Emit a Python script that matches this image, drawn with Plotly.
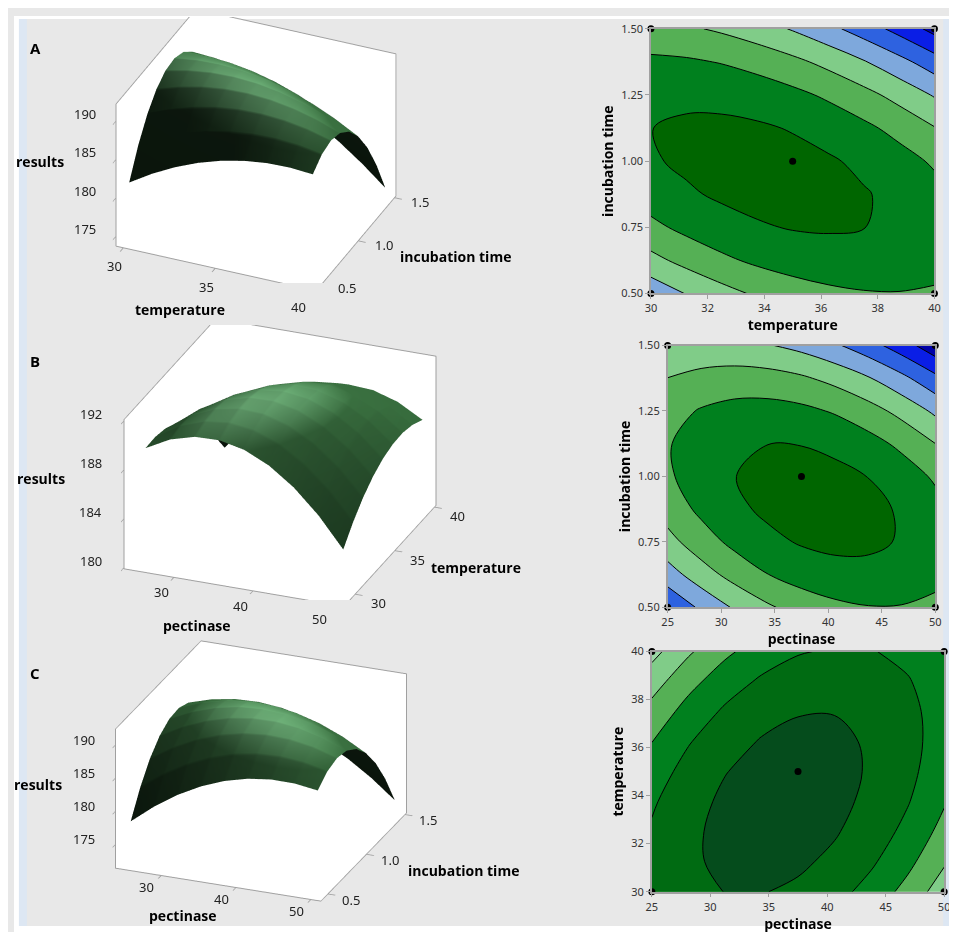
import plotly.graph_objects as go

# ---------------- data ----------------
temperature = [30, 31.25, 32.5, 33.75, 35, 36.25, 37.5, 38.75, 40]
incubation_time = [0.5, 0.625, 0.75, 0.875, 1.0, 1.125, 1.25, 1.375, 1.5]
pectinase = [25, 28.125, 31.25, 34.375, 37.5, 40.625, 43.75, 46.875, 50]

# rows = incubation_time, columns = temperature
results_temperature_incubation = [
    [181.30, 183.11, 184.63, 185.86, 186.80, 187.46, 187.83, 187.91, 187.70],
    [184.75, 186.27, 187.51, 188.46, 189.12, 189.50, 189.58, 189.38, 188.90],
    [187.39, 188.63, 189.59, 190.26, 190.64, 190.73, 190.54, 190.06, 189.29],
    [189.22, 190.18, 190.86, 191.25, 191.35, 191.16, 190.68, 189.92, 188.87],
    [190.25, 190.93, 191.33, 191.43, 191.25, 190.78, 190.03, 188.98, 187.65],
    [190.47, 190.87, 190.98, 190.81, 190.35, 189.60, 188.56, 187.23, 185.62],
    [189.89, 190.01, 189.84, 189.38, 188.64, 187.61, 186.29, 184.68, 182.79],
    [188.50, 188.33, 187.88, 187.15, 186.12, 184.81, 183.21, 181.32, 179.15],
    [186.30, 185.86, 185.13, 184.11, 182.80, 181.21, 179.33, 177.16, 174.70],
]

# rows = incubation_time, columns = pectinase
results_pectinase_incubation = [
    [177.59, 180.38, 182.71, 184.56, 185.94, 186.85, 187.30, 187.27, 186.77],
    [181.27, 183.77, 185.81, 187.37, 188.47, 189.09, 189.25, 188.93, 188.15],
    [184.07, 186.28, 188.03, 189.31, 190.12, 190.46, 190.33, 189.73, 188.66],
    [185.99, 187.92, 189.38, 190.38, 190.90, 190.95, 190.53, 189.64, 188.29],
    [187.04, 188.69, 189.86, 190.57, 190.80, 190.57, 189.86, 188.69, 187.04],
    [187.22, 188.57, 189.46, 189.88, 189.83, 189.31, 188.31, 186.85, 184.92],
    [186.52, 187.59, 188.19, 188.32, 187.98, 187.17, 185.89, 184.14, 181.93],
    [184.94, 185.72, 186.04, 185.88, 185.26, 184.16, 182.60, 180.56, 178.06],
    [182.49, 182.99, 183.02, 182.57, 181.66, 180.28, 178.43, 176.10, 173.31],
]

# rows = temperature, columns = pectinase
results_pectinase_temperature = [
    [188.91, 189.97, 190.53, 190.59, 190.15, 189.21, 187.77, 185.83, 183.39],
    [188.95, 190.18, 190.90, 191.13, 190.85, 190.08, 188.80, 187.03, 184.75],
    [188.73, 190.12, 191.01, 191.40, 191.29, 190.68, 189.57, 187.96, 185.85],
    [188.24, 189.80, 190.85, 191.41, 191.46, 191.02, 190.07, 188.63, 186.68],
    [187.49, 189.21, 190.43, 191.15, 191.37, 191.09, 190.31, 189.03, 187.25],
    [186.47, 188.36, 189.74, 190.63, 191.01, 190.90, 190.28, 189.17, 187.55],
    [185.19, 187.24, 188.79, 189.84, 190.39, 190.44, 189.99, 189.04, 187.59],
    [183.64, 185.86, 187.57, 188.79, 189.50, 189.72, 189.43, 188.65, 187.36],
    [181.83, 184.21, 186.09, 187.47, 188.35, 188.73, 188.61, 187.99, 186.87],
]

# design points marked on the contour plots
design_temperature_a = [30, 40, 30, 40, 35]
design_incubation_a = [0.5, 0.5, 1.5, 1.5, 1.0]
design_pectinase_b = [25, 50, 25, 50, 37.5]
design_incubation_b = [0.5, 0.5, 1.5, 1.5, 1.0]
design_pectinase_c = [25, 50, 25, 50, 37.5]
design_temperature_c = [30, 30, 40, 40, 35]

# tick labels
ticks_temperature_3d = [30, 35, 40]
ticks_incubation_3d = [0.5, 1.0, 1.5]
ticks_pectinase_3d = [30, 40, 50]
ticks_results_a = [175, 180, 185, 190]
ticks_results_b = [180, 184, 188, 192]
ticks_results_c = [175, 180, 185, 190]
ticks_temperature_2d = [30, 32, 34, 36, 38, 40]
ticks_incubation_2d = [0.5, 0.75, 1.0, 1.25, 1.5]
ticks_pectinase_2d = [25, 30, 35, 40, 45, 50]

# contour levels and band colours (low -> high)
levels_a = dict(start=175.5, end=190.5, size=2.5)
levels_b = dict(start=174.9, end=189.9, size=2.5)
levels_c = dict(start=182.5, end=190.5, size=2.0)
colors_ab = ['#0000a8', '#0a1ee6', '#2e62e0', '#7ea8dc', '#80cc88', '#55b055', '#00801e', '#006600']
colors_c = ['#9ad8a4', '#80cc88', '#55b055', '#00801e', '#006b12', '#054c1c']

# ---------------- styling ----------------
W, H = 957, 932
GRAY = '#e8e8e8'
LINE = '#a0a0a0'
tick_font3d = dict(family='Noto Sans', size=13, color='#222222')
title_font3d = dict(family='Open Sans', size=14, color='black', weight='bold')
tick_font2d = dict(family='Noto Sans', size=11, color='#333333')
title_font2d = dict(family='Open Sans', size=14, color='black', weight='bold')


def stepscale(colors):
    n = len(colors) - 1
    return [[i / n, c] for i, c in enumerate(colors)]


surface_green = [[0, '#2f6236'], [0.85, '#3a7040'], [1, '#6fb27a']]
surf_light = dict(ambient=0.2, diffuse=0.9, specular=1.6, roughness=0.3, fresnel=0.2)
lightpos = dict(x=40000, y=100000, z=50)

fig = go.Figure()

fig.add_trace(go.Surface(x=temperature, y=incubation_time, z=results_temperature_incubation,
                         scene='scene', colorscale=surface_green, showscale=False,
                         lighting=surf_light, lightposition=lightpos, hoverinfo='skip'))
fig.add_trace(go.Surface(x=pectinase, y=temperature, z=results_pectinase_temperature,
                         scene='scene2', colorscale=surface_green, showscale=False,
                         lighting=surf_light, lightposition=lightpos, hoverinfo='skip'))
fig.add_trace(go.Surface(x=pectinase, y=incubation_time, z=results_pectinase_incubation,
                         scene='scene3', colorscale=surface_green, showscale=False,
                         lighting=surf_light, lightposition=lightpos, hoverinfo='skip'))


def contour(x, y, z, levels, colors, xa, ya):
    return go.Contour(x=x, y=y, z=z, xaxis=xa, yaxis=ya, colorscale=stepscale(colors),
                      showscale=False, contours=dict(coloring='fill', **levels),
                      line=dict(color='black', width=1, smoothing=1.0), hoverinfo='skip')


fig.add_trace(contour(temperature, incubation_time, results_temperature_incubation,
                      levels_a, colors_ab, 'x', 'y'))
fig.add_trace(contour(pectinase, incubation_time, results_pectinase_incubation,
                      levels_b, colors_ab, 'x2', 'y2'))
fig.add_trace(contour(pectinase, temperature, results_pectinase_temperature,
                      levels_c, colors_c, 'x3', 'y3'))

for xs, ys, xa, ya in [(design_temperature_a, design_incubation_a, 'x', 'y'),
                       (design_pectinase_b, design_incubation_b, 'x2', 'y2'),
                       (design_pectinase_c, design_temperature_c, 'x3', 'y3')]:
    fig.add_trace(go.Scatter(x=xs, y=ys, mode='markers', xaxis=xa, yaxis=ya,
                             marker=dict(color='black', size=7), cliponaxis=False,
                             hoverinfo='skip', showlegend=False))


def ax3(rng, tv):
    return dict(title=dict(text=''), range=rng, autorange=False, tickvals=tv,
                showticklabels=False, showgrid=False, zeroline=False, showbackground=True,
                backgroundcolor='white', showline=True, linecolor=LINE, linewidth=2,
                mirror=True, ticks='outside', ticklen=8, tickwidth=2, tickcolor=LINE,
                showspikes=False)


def labels3d(xr, yr, zr, xt, yt, zt, titles, off):
    """Horizontal tick labels and titles anchored at the box edges."""
    ex = (xr[1] - xr[0]) * 0.002
    ey = (yr[1] - yr[0]) * 0.002
    ez = (zr[1] - zr[0]) * 0.002
    x0, x1, y0, z0 = xr[0] + ex, xr[1] - ex, yr[0] + ey, zr[0] + ez
    xtitle, ytitle, ztitle = titles
    ann = []
    for v in zt:
        ann.append(dict(x=x0, y=y0, z=v, text=str(v), showarrow=False,
                        xanchor='right', yanchor='middle', xshift=off['zt'][0], yshift=off['zt'][1],
                        font=tick_font3d))
    for v in xt:
        ann.append(dict(x=v, y=y0, z=z0, text=str(v), showarrow=False,
                        xanchor='center', yanchor='middle', xshift=off['xt'][0], yshift=off['xt'][1],
                        font=tick_font3d))
    for v in yt:
        ann.append(dict(x=x1, y=v, z=z0, text=str(v), showarrow=False,
                        xanchor='center', yanchor='middle', xshift=off['yt'][0], yshift=off['yt'][1],
                        font=tick_font3d))
    zmid = (zr[0] + zr[1]) / 2
    ymid = (yr[0] + yr[1]) / 2
    xmid = (xr[0] + xr[1]) / 2
    ann.append(dict(x=x0, y=y0, z=zmid, text=ztitle, showarrow=False,
                    xanchor='center', yanchor='middle', xshift=off['zT'][0], yshift=off['zT'][1],
                    font=title_font3d))
    ann.append(dict(x=xmid, y=y0, z=z0, text=xtitle, showarrow=False,
                    xanchor='center', yanchor='middle', xshift=off['xT'][0], yshift=off['xT'][1],
                    font=title_font3d))
    ann.append(dict(x=x1, y=ymid, z=z0, text=ytitle, showarrow=False,
                    xanchor='center', yanchor='middle', xshift=off['yT'][0], yshift=off['yT'][1],
                    font=title_font3d))
    return ann


def scene(dx, dy, xr, yr, zr, xt, yt, zt, titles, aspect, eye, off):
    return dict(domain=dict(x=dx, y=dy), xaxis=ax3(xr, xt), yaxis=ax3(yr, yt), zaxis=ax3(zr, zt),
                aspectmode='manual', aspectratio=dict(x=aspect[0], y=aspect[1], z=aspect[2]),
                camera=dict(eye=dict(x=eye[0], y=eye[1], z=eye[2]),
                            center=dict(x=0, y=0, z=0),
                            up=dict(x=0, y=0, z=1), projection=dict(type='orthographic')),
                bgcolor='rgba(0,0,0,0)',
                annotations=labels3d(xr, yr, zr, xt, yt, zt, titles, off))


def ax2(title, rng, tv, fmt, domain, anchor, standoff):
    return dict(domain=domain, anchor=anchor, range=rng, tickvals=tv, tickformat=fmt,
                showline=True, linecolor=LINE, linewidth=1.5, mirror=True,
                ticks='outside', ticklen=4, tickcolor=LINE, showgrid=False, zeroline=False,
                tickfont=tick_font2d, title=dict(text=title, font=title_font2d, standoff=standoff))


off_a = dict(zt=(-19, 7), xt=(-9, -19), yt=(26, -5), zT=(-77, 13), xT=(-36, -42), yT=(100, -14))
off_b = dict(zt=(-20, 7), xt=(-12, -15), yt=(24, -9), zT=(-83, 16), xT=(-37, -38), yT=(87, -12))
off_c = dict(zt=(-19, 5), xt=(-14, -12), yt=(24, -6), zT=(-78, 14), xT=(-35, -31), yT=(101, -14))

SA, SB, SC = 1.64, 1.72, 1.66
fig.update_layout(
    width=W, height=H, margin=dict(l=0, r=0, t=0, b=0), autosize=False,
    paper_bgcolor=GRAY, plot_bgcolor='white', showlegend=False,
    scene=scene([0.001, 0.511], [0.709, 0.999], [29.6, 40.5], [0.42, 1.52], [173.7, 192.2],
                ticks_temperature_3d, ticks_incubation_3d, ticks_results_a,
                ('temperature', 'incubation time', 'results'),
                (SA * 1.0, SA * 0.92, SA * 0.76), (0.549, -1.267, 0.830), off_a),
    scene2=scene([0.0261, 0.5361], [0.3627, 0.6627], [23.7, 51.5], [28.6, 40.2], [179.9, 192.1],
                 ticks_pectinase_3d, ticks_temperature_3d, ticks_results_b,
                 ('pectinase', 'temperature', 'results'),
                 (SB * 1.0, SB * 1.06, SB * 0.70), (0.487, -1.235, 0.638), off_b),
    scene3=scene([0.006, 0.516], [0.0317, 0.3217], [23.9, 51.35], [0.41, 1.52], [171.4, 192.4],
                 ticks_pectinase_3d, ticks_incubation_3d, ticks_results_c,
                 ('pectinase', 'incubation time', 'results'),
                 (SC * 1.0, SC * 1.056, SC * 0.69), (0.524, -1.328, 0.635), off_c),
    xaxis=ax2('temperature', [30, 40], ticks_temperature_2d, 'd', [0.674, 0.974], 'y', 4),
    yaxis=ax2('incubation time', [0.5, 1.5], ticks_incubation_2d, '.2f', [0.6974, 0.986], 'x', 4),
    xaxis2=ax2('pectinase', [25, 50], ticks_pectinase_2d, 'd', [0.6917, 0.9749], 'y2', 4),
    yaxis2=ax2('incubation time', [0.5, 1.5], ticks_incubation_2d, '.2f', [0.3552, 0.6406], 'x2', 4),
    xaxis3=ax2('pectinase', [25, 50], ticks_pectinase_2d, 'd', [0.675, 0.9843], 'y3', 4),
    yaxis3=ax2('temperature', [30, 40], ticks_temperature_2d, 'd', [0.0451, 0.3069], 'x3', 4),
    shapes=[
        dict(type='rect', xref='paper', yref='paper', x0=0, x1=5 / W, y0=0, y1=1,
             fillcolor='white', line=dict(width=0), layer='below'),
        dict(type='rect', xref='paper', yref='paper', x0=5 / W, x1=13 / W, y0=7 / H, y1=1 - 3 / H,
             fillcolor='#dde7f3', line=dict(width=0), layer='below'),
        dict(type='rect', xref='paper', yref='paper', x0=941 / W, x1=1, y0=7 / H, y1=1 - 3 / H,
             fillcolor='#dde7f3', line=dict(width=0), layer='below'),
        dict(type='rect', xref='paper', yref='paper', x0=0, x1=1, y0=0, y1=7 / H,
             fillcolor='white', line=dict(width=0), layer='below'),
        dict(type='rect', xref='paper', yref='paper', x0=0, x1=1, y0=1 - 3 / H, y1=1,
             fillcolor='white', line=dict(width=0), layer='below'),
    ],
    annotations=[
        dict(text='A', x=14 / W, y=1 - 20 / H, xref='paper', yref='paper', showarrow=False,
             font=dict(family='Open Sans', size=15, color='black', weight='bold')),
        dict(text='B', x=14 / W, y=1 - 351 / H, xref='paper', yref='paper', showarrow=False,
             font=dict(family='Open Sans', size=15, color='black', weight='bold')),
        dict(text='C', x=14 / W, y=1 - 680 / H, xref='paper', yref='paper', showarrow=False,
             font=dict(family='Open Sans', size=15, color='black', weight='bold')),
    ],
)

fig.write_html('out.html')
